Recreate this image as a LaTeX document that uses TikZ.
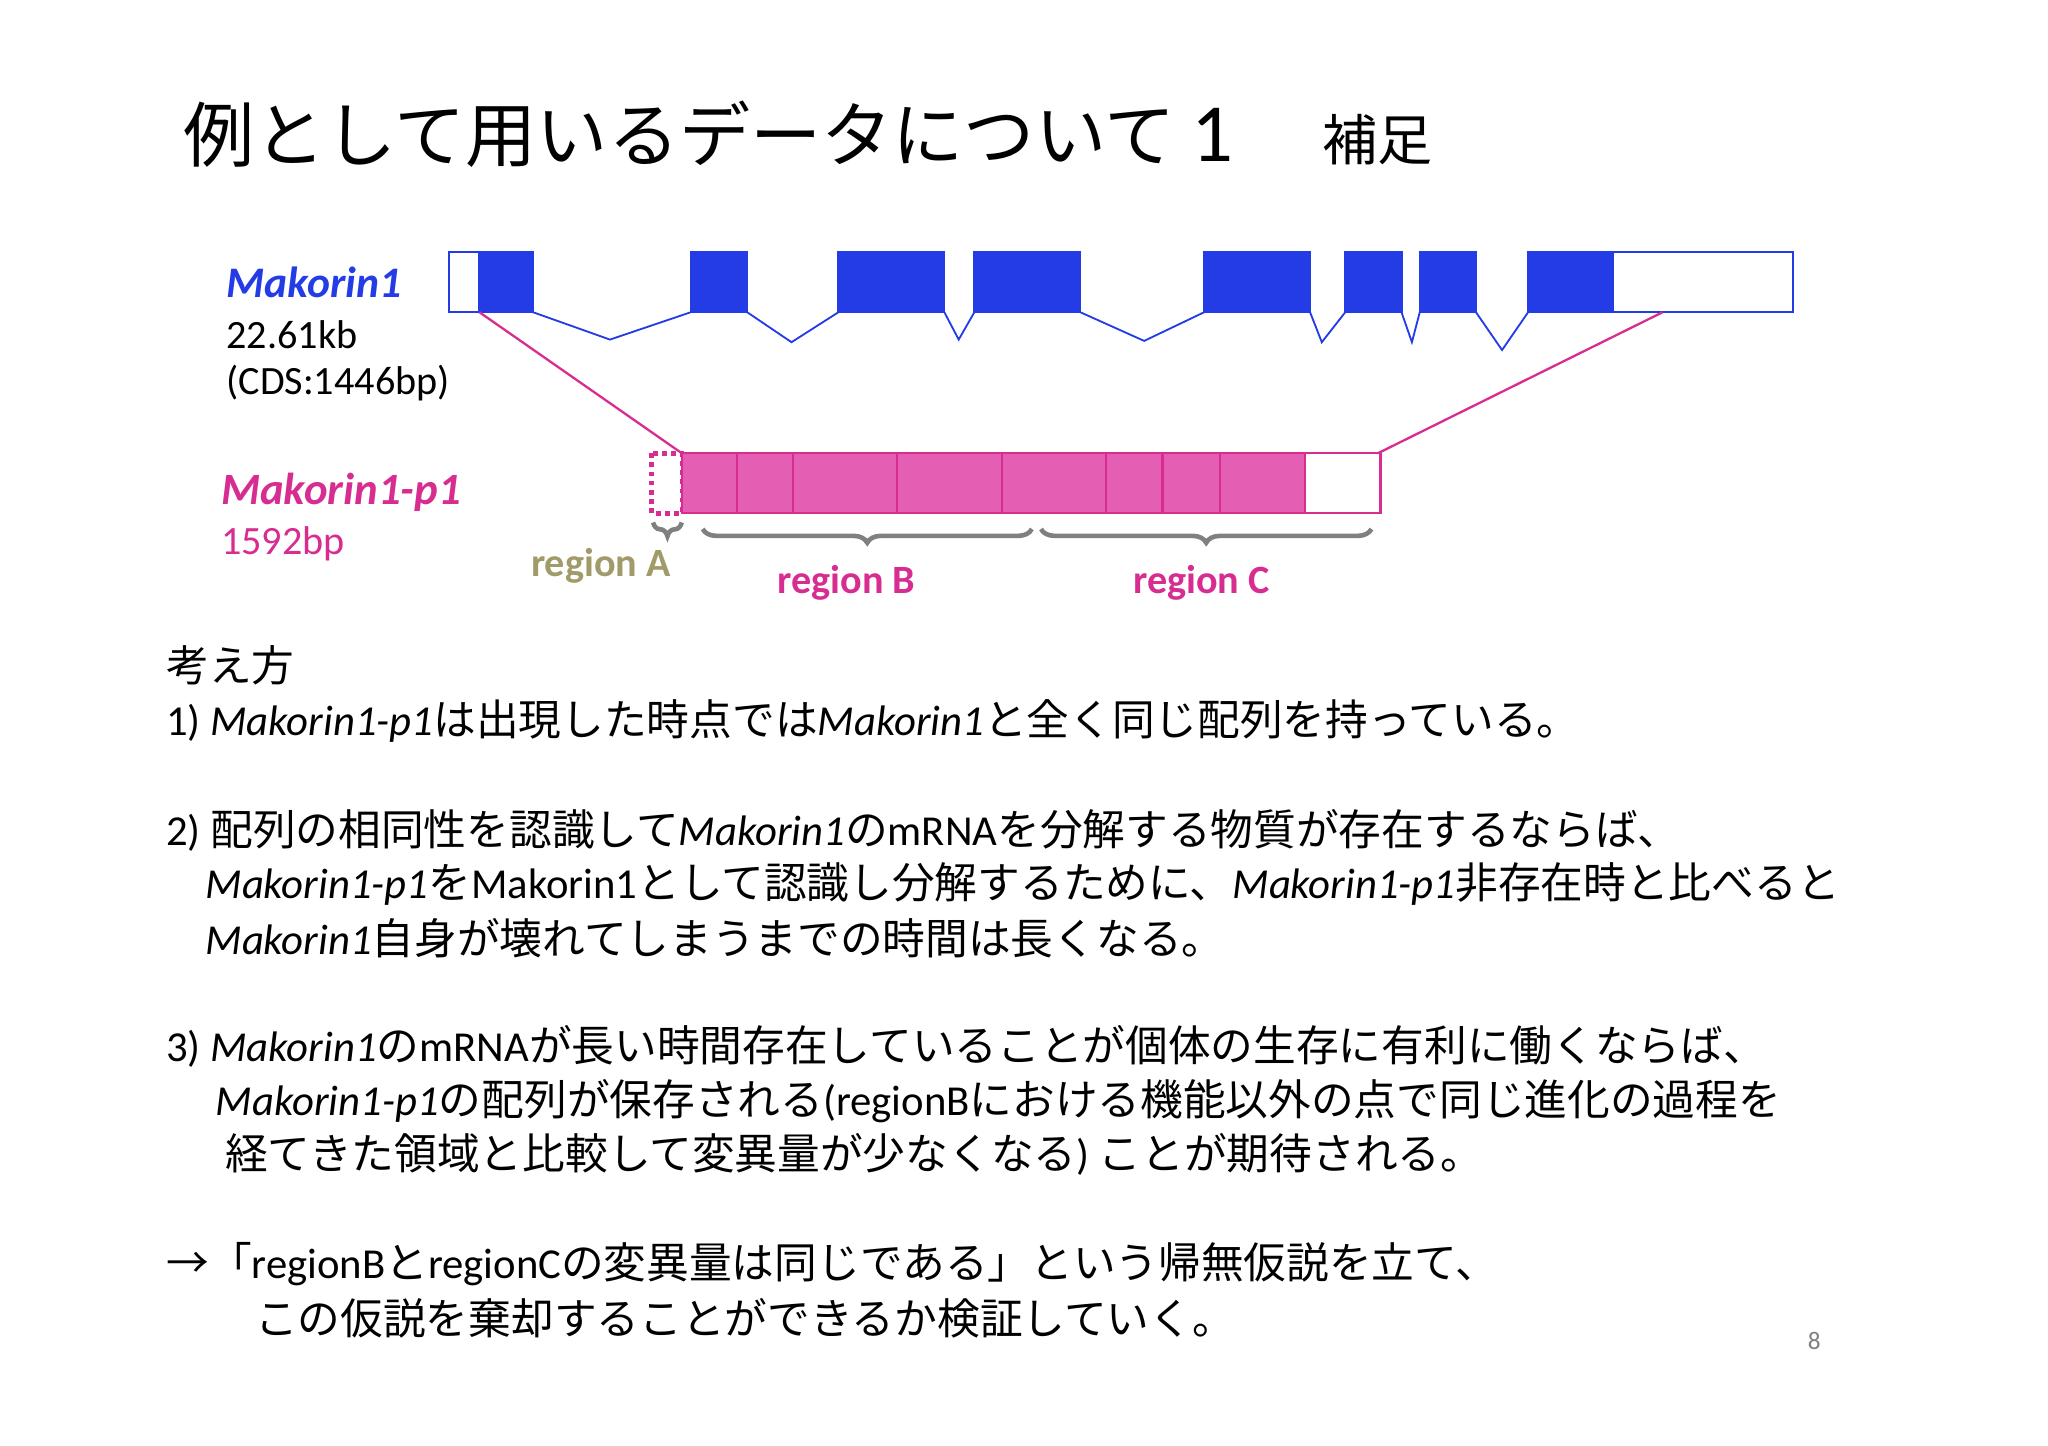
\documentclass[tikz,border=0pt]{standalone}
\usepackage{fontspec}
\setmainfont{Noto Sans CJK JP}
\newfontfamily\lat{Carlito}
\usetikzlibrary{decorations.pathreplacing}
\definecolor{gblue}{RGB}{35,60,230}
\definecolor{gpink}{RGB}{215,45,145}
\definecolor{gpinkf}{RGB}{228,95,180}
\definecolor{golive}{RGB}{160,155,105}
\newcommand{\mk}[1]{{\lat\itshape #1}}
\begin{document}
\begin{tikzpicture}[x=0.2mm,y=-0.2mm,
  bx/.style={draw=gblue,fill=gblue,line width=1pt},
  wbx/.style={draw=gblue,fill=white,line width=1pt},
  pbx/.style={draw=gpink,fill=gpinkf,line width=1pt},
  intr/.style={draw=gblue,line width=0.8pt},
  pl/.style={draw=gpink,line width=1pt},
  br/.style={draw=gray,line width=2pt,decorate,decoration={brace,mirror,amplitude=6}},
  txt/.style={anchor=west,font=\fontsize{18.6}{22}\selectfont,inner sep=0}]
\useasboundingbox (0,0) rectangle (1568,1107);
\node[anchor=west,inner sep=0,font=\fontsize{31}{36}\selectfont] (title) at (140,103) {例として用いるデータについて {\lat\fontsize{36}{40}\selectfont 1}};
\node[anchor=west,inner sep=0,font=\fontsize{24}{28}\selectfont] (hosoku) at (1012,107) {補足};
% gene
\draw[wbx] (344,193) rectangle (367,239);
\foreach \a/\b in {367/408,529/572,642/723,746/827,922/1003,1030/1073,1087/1130,1170/1235}
  \draw[bx] (\a,193) rectangle (\b,239);
\draw[wbx] (1235,193) rectangle (1373,239);
\draw[intr] (408,239)--(467,260)--(529,239);
\draw[intr] (572,239)--(606,262)--(642,239);
\draw[intr] (723,239)--(734,260)--(746,239);
\draw[intr] (827,239)--(876,261)--(922,239);
\draw[intr] (1003,239)--(1012,262)--(1030,239);
\draw[intr] (1073,239)--(1081,262)--(1087,239);
\draw[intr] (1130,239)--(1150,268)--(1170,239);
\coordinate (g1) at (367,239); \coordinate (g2) at (1273,239);
\coordinate (p1) at (522,347); \coordinate (p2) at (1055,347);
\draw[pl] (g1)--(p1); \draw[pl] (g2)--(p2);
% p1
\draw[gpink,dotted,line width=2pt] (499,347) rectangle (522,393);
\foreach \a/\b in {522/564,564/607,607/687,687/767,767/847,847/890,890/934,934/999}
  \draw[pbx] (\a,347) rectangle (\b,393);
\draw[draw=gpink,fill=white,line width=1pt] (999,347) rectangle (1057,393);
\draw[br] (500,400)--(522,400);
\draw[br] (538,405)--(790,405);
\draw[br] (797,405)--(1050,405);
% labels
\node[txt,font=\lat\bfseries\itshape\fontsize{19}{22}\selectfont,text=gblue] (m1) at (173,216) {Makorin1};
\node[txt,font=\lat\fontsize{17.5}{20}\selectfont] (kb) at (173,256) {22.61kb};
\node[txt,font=\lat\fontsize{17.5}{20}\selectfont] (cds) at (173,293) {(CDS:1446bp)};
\node[txt,font=\lat\bfseries\itshape\fontsize{19.5}{22}\selectfont,text=gpink] (m2) at (169,377) {Makorin1-p1};
\node[txt,font=\lat\fontsize{17.5}{20}\selectfont,text=gpink] (bp) at (169,416) {1592bp};
\node[font=\lat\bfseries\fontsize{17.5}{20}\selectfont,text=golive] (ra) at (460,433) {region A};
\node[font=\lat\bfseries\fontsize{17.5}{20}\selectfont,text=gpink] (rb) at (648,446) {region B};
\node[font=\lat\bfseries\fontsize{17.5}{20}\selectfont,text=gpink] (rc) at (920,446) {region C};
% body
\node[txt] (l0) at (127,509) {考え方};
\node[txt] (l1) at (127,552) {{\lat 1)} \mk{Makorin1-p1}は出現した時点では\mk{Makorin1}と全く同じ配列を持っている。};
\node[txt] (l2) at (127,636) {{\lat 2)} 配列の相同性を認識して\mk{Makorin1}の{\lat mRNA}を分解する物質が存在するならば、};
\node[txt] (l3) at (157,677) {\mk{Makorin1-p1}を{\lat Makorin1}として認識し分解するために、\mk{Makorin1-p1}非存在時と比べると};
\node[txt] (l4) at (157,718) {\mk{Makorin1}自身が壊れてしまうまでの時間は長くなる。};
\node[txt] (l5) at (127,801) {{\lat 3)} \mk{Makorin1}の{\lat mRNA}が長い時間存在していることが個体の生存に有利に働くならば、};
\node[txt] (l6) at (165,843) {\mk{Makorin1-p1}の配列が保存される{\lat (regionB}における機能以外の点で同じ進化の過程を};
\node[txt] (l7) at (172,884) {経てきた領域と比較して変異量が少なくなる{\lat )} ことが期待される。};
\node[txt] (l8) at (127,968) {→「{\lat regionB}と{\lat regionC}の変異量は同じである」という帰無仮説を立て、};
\node[txt] (l9) at (195,1009) {この仮説を棄却することができるか検証していく。};
\node[font=\lat\fontsize{11}{13}\selectfont,text=gray] (pg) at (1389,1027) {8};
\end{tikzpicture}
\end{document}
